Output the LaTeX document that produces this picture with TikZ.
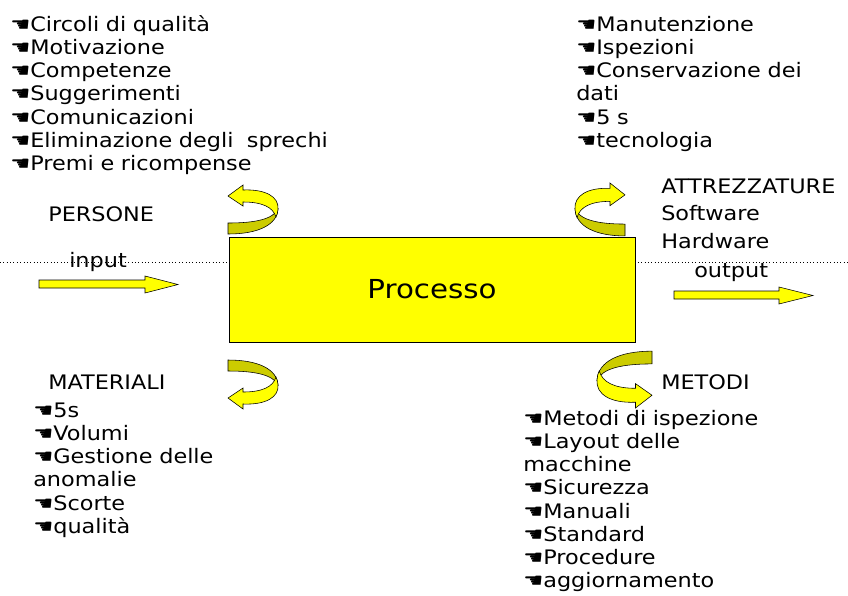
\documentclass[tikz,border=0pt]{standalone}
\usepackage{fontspec}
\setmainfont{DejaVu Sans}[FakeStretch=1.12]
\definecolor{giallo}{HTML}{FFFF00}
\definecolor{olivastro}{HTML}{CCCC00}

\newcommand{\mano}{☚}
% curved ribbon arrow, drawn in local pixel coordinates
\newcommand{\curva}{%
  \filldraw[fill=olivastro, draw=black, thin] (0,38) .. controls (28,38) and (45,34) .. (50,24)
    .. controls (49,40) and (30,49) .. (0,49) -- cycle;
  \filldraw[fill=giallo, draw=black, thin] (0,11) -- (15,0) -- (15,5) .. controls (38,4) and (51,12) .. (50,24)
    .. controls (50,27) and (49,30) .. (48,32) .. controls (45,22) and (34,17) .. (15,17) -- (15,21) -- cycle;
}

\begin{document}
\begin{tikzpicture}[x=0.025cm, y=-0.025cm,
  testo/.style={inner sep=0pt, anchor=base west, font=\fontsize{14.2}{16.55}\selectfont},
  elenco/.style={testo, text width=6cm, align=left},
  freccia/.style={fill=giallo, draw=black, thin}]
     \useasboundingbox (0,0) rectangle (848,595);
     \fill[white] (0,0) rectangle (848,595);
     \draw[dotted, thin] (0,262) -- (848,262);

     \node[draw=black, fill=giallo, inner sep=0pt, minimum width=10.15cm, minimum height=2.625cm,
       font=\fontsize{18.6}{22}\selectfont] (processo) at (432,289.5) {Processo};

     % input / output
     \filldraw[freccia] (39,280) -- (145,280) -- (145,276) -- (178,284.5) -- (145,293) -- (145,288) -- (39,288) -- cycle;
     \filldraw[freccia] (674,291) -- (779,291) -- (779,287) -- (813,295.5) -- (779,304) -- (779,299) -- (674,299) -- cycle;
     \node[testo] (input) at (69,267) {input};
     \node[testo] (output) at (694,277) {output};

     % curved arrows
     \begin{scope}[shift={(228,185)}] \curva \end{scope}
     \begin{scope}[shift={(625,183)}, xscale=-1, yscale=1.08] \curva \end{scope}
     \begin{scope}[shift={(228,409)}, yscale=-1] \curva \end{scope}
     \begin{scope}[shift={(652,408)}, xscale=-1.1, yscale=-1.16] \curva \end{scope}

     % headings
     \node[testo] (persone) at (48,221) {PERSONE};
     \node[testo, align=left, text width=4.5cm, font=\fontsize{14.2}{19.6}\selectfont] (attrezzature) at (661,193)
       {ATTREZZATURE\\Software\\Hardware};
     \node[testo] (materiali) at (48,389) {MATERIALI};
     \node[testo] (metodi) at (661,389) {METODI};

     % lists
     \node[elenco, text width=9cm] (l-persone) at (10,31) {\mano Circoli di qualità\\\mano Motivazione\\\mano Competenze\\
       \mano Suggerimenti\\\mano Comunicazioni\\\mano Eliminazione degli~ sprechi\\\mano Premi e ricompense};
     \node[elenco] (l-attrezzature) at (576,31) {\mano Manutenzione\\\mano Ispezioni\\
       \mano Conservazione dei\\dati\\\mano 5 s\\\mano tecnologia};
     \node[elenco] (l-materiali) at (33,417) {\mano 5s\\\mano Volumi\\\mano Gestione delle\\anomalie\\
       \mano Scorte\\\mano qualità};
     \node[elenco, text width=7cm] (l-metodi) at (523,425) {\mano Metodi di ispezione\\\mano Layout delle\\macchine\\
       \mano Sicurezza\\\mano Manuali\\\mano Standard\\\mano Procedure\\\mano aggiornamento};
\end{tikzpicture}
\end{document}
